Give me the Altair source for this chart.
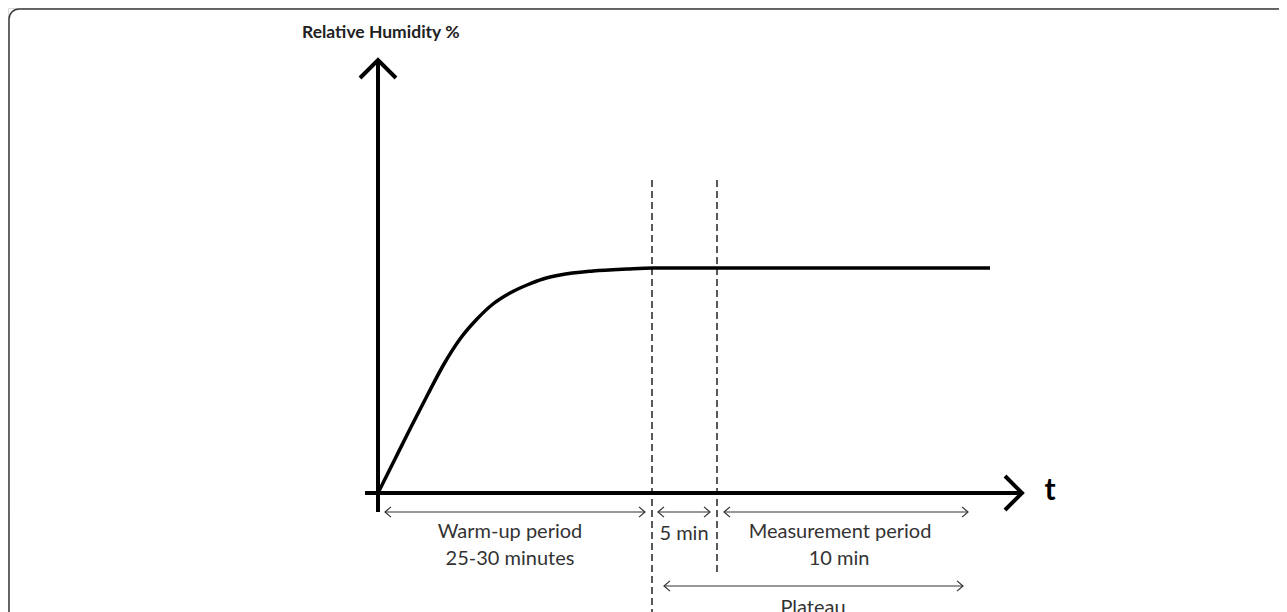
import altair as alt
import pandas as pd

# ---- data (t = time units from origin, rh = humidity units above the t axis) ----
curve_t = [0, 16, 33, 50, 66, 82, 99, 115, 132, 149, 165, 182, 215, 249, 275, 339, 612]
curve_rh = [0, 32, 66, 99, 129, 154, 174, 189, 200, 208, 214, 218, 222, 224, 225, 225, 225]

axis_names = ["y", "y", "x", "x"]
axis_t = [0, 0, -13, 644]
axis_rh = [-19, 433, 0, 0]

dash_t = [274, 339]
dash_top = [313, 313]
dash_bottom = [-125, -82]

span_names = ["warm", "five", "meas", "plateau"]
span_start = [7, 280, 346, 286]
span_end = [267, 332, 590, 585]
span_rh = [-19, -19, -19, -93]

label_text = ["Warm-up period", "25-30 minutes", "5 min", "Measurement period", "10 min", "Plateau"]
label_t = [132, 132, 306, 462, 461, 435]
label_rh = [-39, -66, -41, -39, -66, -115]

title_text = ["Relative Humidity %"]
title_t = [-76]
title_rh = [460]

t_text = ["t"]
t_t = [672]
t_rh = [2]

frame_t = [-369, 940]
frame_rh = [484, -150]

xs = alt.Scale(domain=[-370, 901], nice=False, zero=False)
ys = alt.Scale(domain=[-119, 485], nice=False, zero=False)

curve_df = pd.DataFrame({"t": curve_t, "rh": curve_rh})
axis_df = pd.DataFrame({"name": axis_names, "t": axis_t, "rh": axis_rh})
dash_df = pd.DataFrame({"t": dash_t, "top": dash_top, "bottom": dash_bottom})
span_df = pd.DataFrame({"name": span_names, "s": span_start, "e": span_end, "rh": span_rh})
label_df = pd.DataFrame({"text": label_text, "t": label_t, "rh": label_rh})
title_df = pd.DataFrame({"text": title_text, "t": title_t, "rh": title_rh})
tt_df = pd.DataFrame({"text": t_text, "t": t_t, "rh": t_rh})
frame_df = pd.DataFrame({"t": [frame_t[0]], "t2": [frame_t[1]], "rh": [frame_rh[0]], "rh2": [frame_rh[1]]})
yhead_df = axis_df[axis_df["name"] == "y"].iloc[[1]]
xhead_df = axis_df[axis_df["name"] == "x"].iloc[[1]]

X = lambda f: alt.X(f, type="quantitative", scale=xs, axis=None)
Y = lambda f: alt.Y(f, type="quantitative", scale=ys, axis=None)

frame = alt.Chart(frame_df).mark_rect(
    filled=False, stroke="#3a3a3a", strokeWidth=1.5, cornerRadius=10, clip=True
).encode(x=X("t"), x2="t2", y=Y("rh"), y2="rh2")

axes = alt.Chart(axis_df).mark_line(color="black", strokeWidth=4, strokeCap="butt").encode(
    x=X("t"), y=Y("rh"), detail="name:N", order=alt.Order("rh:Q")
)

yhead = alt.Chart(yhead_df).mark_point(
    shape="M-1,1L0,0L1,1", size=1296, filled=False, color="black", strokeWidth=4,
    opacity=1, strokeJoin="miter", strokeCap="butt"
).encode(x=X("t"), y=Y("rh"))

xhead = alt.Chart(xhead_df).mark_point(
    shape="M-1,-1L0,0L-1,1", size=1156, filled=False, color="black", strokeWidth=4,
    opacity=1, strokeJoin="miter", strokeCap="butt"
).encode(x=X("t"), y=Y("rh"))

curve = alt.Chart(curve_df).mark_line(color="black", strokeWidth=3.5, interpolate="monotone").encode(
    x=X("t"), y=Y("rh"), order="t:Q"
)

dashes = alt.Chart(dash_df).mark_rule(color="black", strokeWidth=1.3, strokeDash=[7, 4]).encode(
    x=X("t"), y=Y("top"), y2="bottom"
)

spans = alt.Chart(span_df).mark_rule(color="#333333", strokeWidth=1.2).encode(
    x=X("s"), x2="e", y=Y("rh")
)

lhead = alt.Chart(span_df).mark_point(
    shape="M1,-0.85L0,0L1,0.85", size=144, filled=False, color="#333333", strokeWidth=1.2, opacity=1
).encode(x=X("s"), y=Y("rh"))

rhead = alt.Chart(span_df).mark_point(
    shape="M-1,-0.85L0,0L-1,0.85", size=144, filled=False, color="#333333", strokeWidth=1.2, opacity=1
).encode(x=X("e"), y=Y("rh"))

labels = alt.Chart(label_df).mark_text(
    font="Lato", fontSize=20, color="#333333", align="center", baseline="middle"
).encode(x=X("t"), y=Y("rh"), text="text:N")

title = alt.Chart(title_df).mark_text(
    font="Lato", fontSize=17.5, fontWeight="bold", color="#222222", align="left", baseline="middle"
).encode(x=X("t"), y=Y("rh"), text="text:N")

tlab = alt.Chart(tt_df).mark_text(
    font="Lato", fontSize=30, fontWeight="bold", color="black", align="center", baseline="middle"
).encode(x=X("t"), y=Y("rh"), text="text:N")

chart = alt.layer(
    frame, dashes, spans, lhead, rhead, axes, yhead, xhead, curve, labels, title, tlab
).properties(
    width=1271, height=604, padding=0, autosize=alt.AutoSizeParams(type="none")
).configure_view(stroke=None).configure(background="white")

chart.save("out.html", embed_options={"renderer": "svg", "actions": False})
